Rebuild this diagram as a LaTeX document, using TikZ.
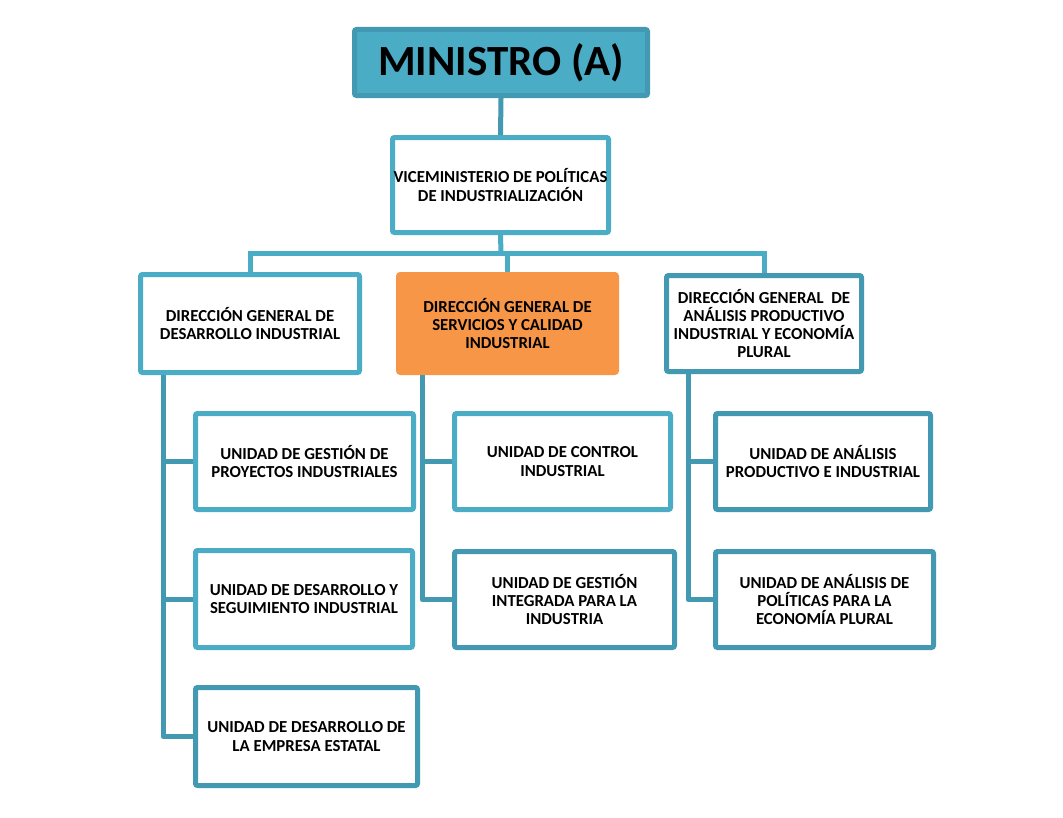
\documentclass[tikz,border=0pt]{standalone}
\usepackage{fontspec}
\setmainfont{Carlito}
\definecolor{lblue}{RGB}{75,172,198}
\definecolor{dblue}{RGB}{67,152,178}
\definecolor{orng}{RGB}{247,150,70}
\tikzset{
  x=0.75pt, y=-0.75pt,
  box/.style={draw=lblue, line width=3.75pt, fill=white, rounded corners=1.5pt,
    align=center, inner sep=0pt, font=\fontsize{12.6}{13.6}\selectfont\bfseries},
  dbox/.style={box, draw=dblue},
  obox/.style={box, draw=orng, fill=orng},
  conn/.style={draw=dblue, line width=3.75pt},
  lconn/.style={draw=lblue, line width=3.75pt},
}
\begin{document}
\begin{tikzpicture}
\useasboundingbox (0,0) rectangle (1063,817);
% top
\node[dbox, fill=lblue, minimum width=293*0.75pt, minimum height=66*0.75pt,
  font=\fontsize{32.3}{38}\selectfont\bfseries] (min) at (501,62.5) {MINISTRO (A)};
\node[box, minimum width=216*0.75pt, minimum height=95*0.75pt] (vic) at (500.5,185)
  {VICEMINISTERIO DE POLÍTICAS\\DE INDUSTRIALIZACIÓN};
% directions
\node[box, minimum width=219*0.75pt, minimum height=98*0.75pt] (dg1) at (250,323.5)
  {DIRECCIÓN GENERAL DE\\DESARROLLO INDUSTRIAL};
\node[obox, minimum width=218*0.75pt, minimum height=98*0.75pt] (dg2) at (507.5,323.5)
  {DIRECCIÓN GENERAL DE\\SERVICIOS Y CALIDAD\\INDUSTRIAL};
\node[dbox, minimum width=195*0.75pt, minimum height=96*0.75pt] (dg3) at (764,323.5)
  {DIRECCIÓN GENERAL~ DE\\ANÁLISIS PRODUCTIVO\\INDUSTRIAL Y ECONOMÍA\\PLURAL};
% units left
\node[box, minimum width=218*0.75pt, minimum height=96*0.75pt] (l1) at (304.5,461.5)
  {UNIDAD DE GESTIÓN DE\\PROYECTOS INDUSTRIALES};
\node[box, minimum width=217*0.75pt, minimum height=97*0.75pt] (l2) at (304,599)
  {UNIDAD DE DESARROLLO Y\\SEGUIMIENTO INDUSTRIAL};
\node[dbox, minimum width=222*0.75pt, minimum height=98*0.75pt] (l3) at (306.5,736.5)
  {UNIDAD DE DESARROLLO DE\\LA EMPRESA ESTATAL};
% units middle
\node[box, minimum width=216*0.75pt, minimum height=96*0.75pt] (m1) at (562.5,461.5)
  {UNIDAD DE CONTROL\\INDUSTRIAL};
\node[dbox, minimum width=220*0.75pt, minimum height=96*0.75pt] (m2) at (564.5,599.5)
  {UNIDAD DE GESTIÓN\\INTEGRADA PARA LA\\INDUSTRIA};
% units right
\node[dbox, minimum width=215*0.75pt, minimum height=96*0.75pt] (r1) at (823,461.5)
  {UNIDAD DE ANÁLISIS\\PRODUCTIVO E INDUSTRIAL};
\node[dbox, minimum width=218*0.75pt, minimum height=96*0.75pt] (r2) at (824.5,599.5)
  {UNIDAD DE ANÁLISIS DE\\POLÍTICAS PARA LA\\ECONOMÍA PLURAL};
% coordinate for bar
\coordinate (bar) at (501,253);
% top connectors
\draw[conn] (min.south) -- (vic.north);
\draw[lconn] (vic.south) -- (bar);
\draw[lconn, line cap=rect] (dg1.north |- bar) -- (dg3.north |- bar);
\draw[lconn] (dg1.north |- bar) -- (dg1.north);
\draw[lconn] (dg2.north |- bar) -- (dg2.north);
\draw[lconn] (dg3.north |- bar) -- (dg3.north);
% left branch
\coordinate (lx) at (163,0);
\draw[conn, line join=round] (lx |- dg1.south) -- (lx |- l3.west) -- (l3.west);
\draw[conn] (lx |- l1.west) -- (l1.west);
\draw[conn] (lx |- l2.west) -- (l2.west);
% middle branch
\coordinate (mx) at (422,0);
\draw[conn, line join=round] (mx |- dg2.south) -- (mx |- m2.west) -- (m2.west);
\draw[conn] (mx |- m1.west) -- (m1.west);
% right branch
\coordinate (rx) at (688,0);
\draw[conn, line join=round] (rx |- dg3.south) -- (rx |- r2.west) -- (r2.west);
\draw[conn] (rx |- r1.west) -- (r1.west);
\end{tikzpicture}
\end{document}
